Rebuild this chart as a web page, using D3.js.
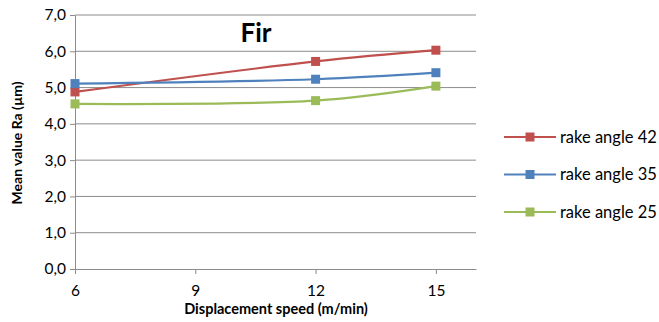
<!DOCTYPE html>
<html>
<head>
<meta charset="utf-8">
<script src="https://cdn.jsdelivr.net/npm/d3@7"></script>
<style>
  body { margin: 0; background: #fff; }
  text { font-family: Lato, "Open Sans", sans-serif; fill: #000; }
</style>
</head>
<body>
<div id="chart"></div>
<script>
// Data
const speeds = [6, 12, 15];
const xTicks = [6, 9, 12, 15];
const yTicks = [0, 1, 2, 3, 4, 5, 6, 7];
const seriesNames = ['rake angle 42', 'rake angle 35', 'rake angle 25'];
const rake42 = [4.88, 5.72, 6.03];
const rake35 = [5.11, 5.23, 5.41];
const rake25 = [4.55, 4.64, 5.04];
const seriesColors = ['#C0504D', '#4F81BD', '#9BBB59'];

const series = [rake42, rake35, rake25].map((vals, i) => ({
    name: seriesNames[i],
    color: seriesColors[i],
    points: vals.map((v, j) => ({ x: speeds[j], y: v }))
}));

const width = 659, height = 322;
const plot = { left: 75, right: 476, top: 15, bottom: 269 };

const svg = d3.select('#chart').append('svg')
    .attr('width', width)
    .attr('height', height);

const x = d3.scaleLinear().domain([6, 16]).range([plot.left, plot.right]);
const y = d3.scaleLinear().domain([0, 7]).range([plot.bottom, plot.top]);

// gridlines
svg.append('g')
    .selectAll('line')
    .data(yTicks.slice(1))
    .enter()
    .append('line')
    .attr('x1', plot.left)
    .attr('x2', plot.right)
    .attr('y1', d => y(d))
    .attr('y2', d => y(d))
    .attr('stroke', '#8c8c8c')
    .attr('stroke-width', 1);

// y axis
const yAxis = svg.append('g')
    .attr('transform', `translate(${plot.left},0)`)
    .call(d3.axisLeft(y).tickValues(yTicks).tickSize(5).tickSizeOuter(0)
        .tickFormat(d => d3.format('.1f')(d).replace('.', ',')));
yAxis.select('.domain').attr('stroke', '#8c8c8c');
yAxis.selectAll('.tick line').attr('stroke', '#8c8c8c');
yAxis.selectAll('.tick text')
    .attr('x', -9)
    .style('font-size', '15.5px')
    .style('font-family', 'Lato, sans-serif');

// x axis
const xAxis = svg.append('g')
    .attr('transform', `translate(0,${plot.bottom})`)
    .call(d3.axisBottom(x).tickValues(xTicks).tickSize(5).tickSizeOuter(0));
xAxis.select('.domain').attr('stroke', '#8c8c8c');
xAxis.selectAll('.tick line').attr('stroke', '#8c8c8c');
xAxis.selectAll('.tick text')
    .attr('y', 16)
    .style('font-size', '15.5px')
    .style('font-family', 'Lato, sans-serif');

// lines
const line = d3.line()
    .x(d => x(d.x))
    .y(d => y(d.y))
    .curve(d3.curveCatmullRom.alpha(0.5));

series.forEach(s => {
    svg.append('path')
        .datum(s.points)
        .attr('d', line)
        .attr('fill', 'none')
        .attr('stroke', s.color)
        .attr('stroke-width', 2.2);

    svg.selectAll(null)
        .data(s.points)
        .enter()
        .append('rect')
        .attr('x', d => x(d.x) - 4.5)
        .attr('y', d => y(d.y) - 4.5)
        .attr('width', 9)
        .attr('height', 9)
        .attr('fill', s.color);
});

// title
svg.append('text')
    .attr('x', 256)
    .attr('y', 42)
    .attr('text-anchor', 'middle')
    .style('font-size', '26px')
    .style('font-weight', 'bold')
    .text('Fir');

// axis titles
svg.append('text')
    .attr('x', 276)
    .attr('y', 314)
    .attr('text-anchor', 'middle')
    .style('font-size', '14.5px')
    .style('font-weight', 'bold')
    .text('Displacement speed (m/min)');

svg.append('text')
    .attr('transform', 'translate(22,143) rotate(-90)')
    .attr('text-anchor', 'middle')
    .style('font-size', '14px')
    .style('font-weight', 'bold')
    .text('Mean value Ra (µm)');

// legend
const legend = svg.append('g');
series.forEach((s, i) => {
    const ly = 137 + i * 37.5;
    legend.append('line')
        .attr('x1', 504).attr('x2', 556)
        .attr('y1', ly).attr('y2', ly)
        .attr('stroke', s.color)
        .attr('stroke-width', 2.2);
    legend.append('rect')
        .attr('x', 530 - 4.5).attr('y', ly - 4.5)
        .attr('width', 9).attr('height', 9)
        .attr('fill', s.color);
    legend.append('text')
        .attr('x', 560)
        .attr('y', ly + 5.5)
        .style('font-size', '16.5px')
        .text(s.name);
});
</script>
</body>
</html>
